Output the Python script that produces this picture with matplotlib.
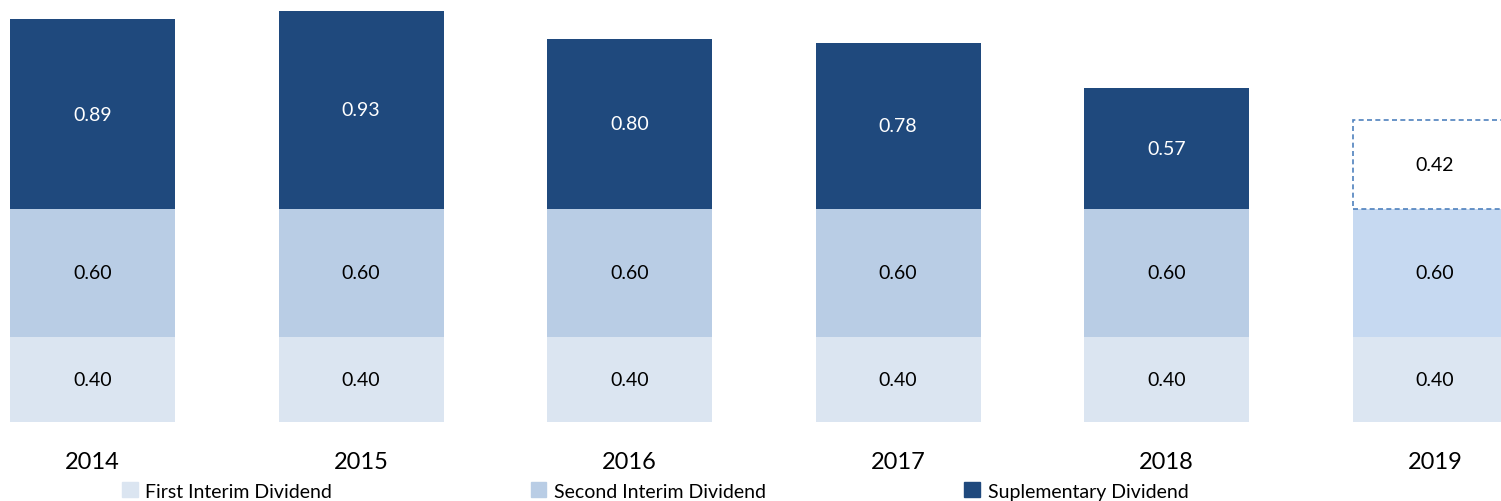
import matplotlib.pyplot as plt
from matplotlib.patches import Patch

years = ["2014", "2015", "2016", "2017", "2018", "2019"]
first_interim = [0.40, 0.40, 0.40, 0.40, 0.40, 0.40]
second_interim = [0.60, 0.60, 0.60, 0.60, 0.60, 0.60]
supplementary = [0.89, 0.93, 0.80, 0.78, 0.57, 0.42]

c_first = "#dbe5f1"
c_second = "#b9cde5"
c_supp = "#1f497d"
c_first_fc = "#dce6f2"
c_second_fc = "#c6d9f1"

plt.rcParams["font.family"] = ["Lato", "DejaVu Sans"]

fig = plt.figure(figsize=(15.01, 5.02), dpi=100)
ax = fig.add_axes([0, 79 / 502, 1, 423 / 502])

x = list(range(len(years)))
w = 165 / 268.5
last = len(years) - 1

f_cols = [c_first] * last + [c_first_fc]
s_cols = [c_second] * last + [c_second_fc]
ax.bar(x, first_interim, w, color=f_cols)
ax.bar(x, second_interim, w, bottom=first_interim, color=s_cols)
base = [a + b for a, b in zip(first_interim, second_interim)]
ax.bar(x[:last], supplementary[:last], w, bottom=base[:last], color=c_supp)
ax.bar(x[last], supplementary[last], w, bottom=base[last], facecolor="white",
       edgecolor="#4f81bd", linestyle=(0, (3, 2)), linewidth=1.2)

for i in x:
    ax.text(i, first_interim[i] / 2, f"{first_interim[i]:.2f}", ha="center",
            va="center", fontsize=14, color="black")
    ax.text(i, first_interim[i] + second_interim[i] / 2, f"{second_interim[i]:.2f}",
            ha="center", va="center", fontsize=14, color="black")
    ax.text(i, base[i] + supplementary[i] / 2, f"{supplementary[i]:.2f}",
            ha="center", va="center", fontsize=14,
            color="black" if i == last else "white")

ax.set_xlim(-92.5 / 268.5, (1501 - 92.5) / 268.5)
ax.set_ylim(0, 423 / 213)
ax.set_xticks(x)
ax.set_xticklabels(years, fontsize=17)
ax.tick_params(axis="x", length=0, pad=21)
ax.set_yticks([])
for s in ax.spines.values():
    s.set_visible(False)

handles = [Patch(color=c_first, label="First Interim Dividend"),
           Patch(color=c_second, label="Second Interim Dividend"),
           Patch(color=c_supp, label="Suplementary Dividend")]
fig.legend(handles=handles, loc="center left", bbox_to_anchor=(122 / 1501, 10 / 502),
           ncol=3, frameon=False, fontsize=14, handlelength=0.8, handleheight=0.8,
           handletextpad=0.4, columnspacing=10.2, borderaxespad=0, borderpad=0)

fig.savefig("out.png", dpi=100)
